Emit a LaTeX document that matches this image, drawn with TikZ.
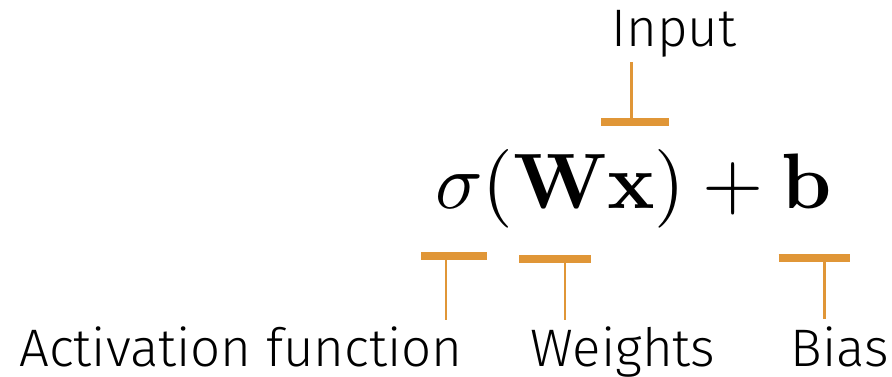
\documentclass[tikz,border=0pt]{standalone}
\usepackage{amsmath}
\usepackage{graphicx}
\usepackage[no-math]{fontspec}
\setmainfont{Fira Sans Light}
\definecolor{accent}{RGB}{224,150,55}
\tikzset{
  lbl/.style={inner sep=0pt, anchor=base, font=\fontsize{39.6}{44}\selectfont},
  barline/.style={draw=accent, line width=6pt},
  stemline/.style={draw=accent, line width=1.9pt},
}
\begin{document}
\begin{tikzpicture}[x=0.75pt, y=-0.75pt]
\useasboundingbox (0,0) rectangle (892,377);
% formula
\node[inner sep=0pt, anchor=base] (f) at (633.5,209) {\scalebox{5.9}{$\sigma(\mathbf{W}\mathbf{x})+\mathbf{b}$}};
% labels
\node[lbl] (inp) at (674,47) {Input};
\node[lbl] (act) at (241,366.5) {Activation function};
\node[lbl] (wts) at (623,366.5) {Weights};
\node[lbl] (bias) at (840,366.5) {Bias};
% input marker
\coordinate (i1) at (601,122.3);
\coordinate (i2) at (669,122.3);
\coordinate (ic) at (631.7,122.3);
\coordinate (it) at (631.7,61.7);
\draw[barline] (i1) -- (i2);
\draw[stemline] (ic) -- (it);
% activation marker
\coordinate (a1) at (421,256.3);
\coordinate (a2) at (486.7,256.3);
\coordinate (ac) at (446,256.3);
\coordinate (ab) at (446,320);
\draw[barline] (a1) -- (a2);
\draw[stemline] (ac) -- (ab);
% weights marker
\coordinate (w1) at (519.3,258.7);
\coordinate (w2) at (591,258.7);
\coordinate (wc) at (565,258.7);
\coordinate (wb) at (565,320);
\draw[barline] (w1) -- (w2);
\draw[stemline] (wc) -- (wb);
% bias marker
\coordinate (b1) at (778.7,258.3);
\coordinate (b2) at (850.3,258.3);
\coordinate (bc) at (824.3,258.3);
\coordinate (bb) at (824.3,319.5);
\draw[barline] (b1) -- (b2);
\draw[stemline] (bc) -- (bb);
\end{tikzpicture}
\end{document}
